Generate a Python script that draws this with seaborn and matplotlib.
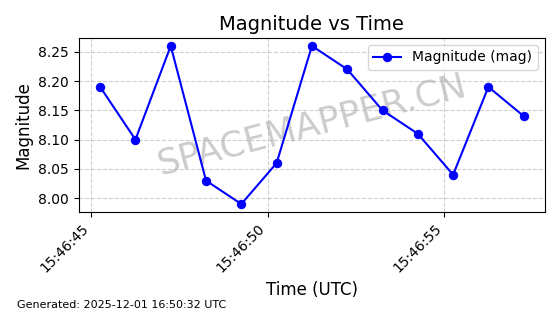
import matplotlib
matplotlib.use("Agg")
import matplotlib.pyplot as plt
import matplotlib.dates as mdates
import seaborn as sns
import pandas as pd

times = ["15:46:45.25", "15:46:46.25", "15:46:47.25", "15:46:48.25", "15:46:49.25",
         "15:46:50.25", "15:46:51.25", "15:46:52.25", "15:46:53.25", "15:46:54.25",
         "15:46:55.25", "15:46:56.25", "15:46:57.25"]
magnitudes = [8.19, 8.10, 8.26, 8.03, 7.99, 8.06, 8.26, 8.22, 8.15, 8.11, 8.04, 8.19, 8.14]

df = pd.DataFrame({
    "time": pd.to_datetime(["2025-12-01 " + t for t in times]),
    "mag": magnitudes,
})

fig, ax = plt.subplots(figsize=(5.6, 3.14), dpi=100)
fig.subplots_adjust(left=0.141, right=0.973, top=0.879, bottom=0.325)

sns.lineplot(data=df, x="time", y="mag", ax=ax, color="blue", marker="o",
             markersize=6, markeredgecolor="blue", linewidth=1.5,
             label="Magnitude (mag)", zorder=3)

ax.set_title("Magnitude vs Time", fontsize=14)
ax.set_xlabel("Time (UTC)", fontsize=12)
ax.set_ylabel("Magnitude", fontsize=12)
ax.grid(True, linestyle="--", alpha=0.6)
ax.xaxis.set_major_locator(mdates.SecondLocator(bysecond=[0, 5, 10, 15, 20, 25, 30, 35, 40, 45, 50, 55]))
ax.xaxis.set_major_formatter(mdates.DateFormatter("%H:%M:%S"))
plt.setp(ax.get_xticklabels(), rotation=45, ha="right")
ax.legend(loc="upper right")

ax.text(0.5, 0.5, "SPACEMAPPER.CN", transform=ax.transAxes, fontsize=25.5,
        color="gray", alpha=0.4, rotation=14.5, ha="center", va="center", zorder=1)

fig.text(0.03, 0.02, "Generated: 2025-12-01 16:50:32 UTC", fontsize=8)

fig.savefig("out.png", dpi=100)
